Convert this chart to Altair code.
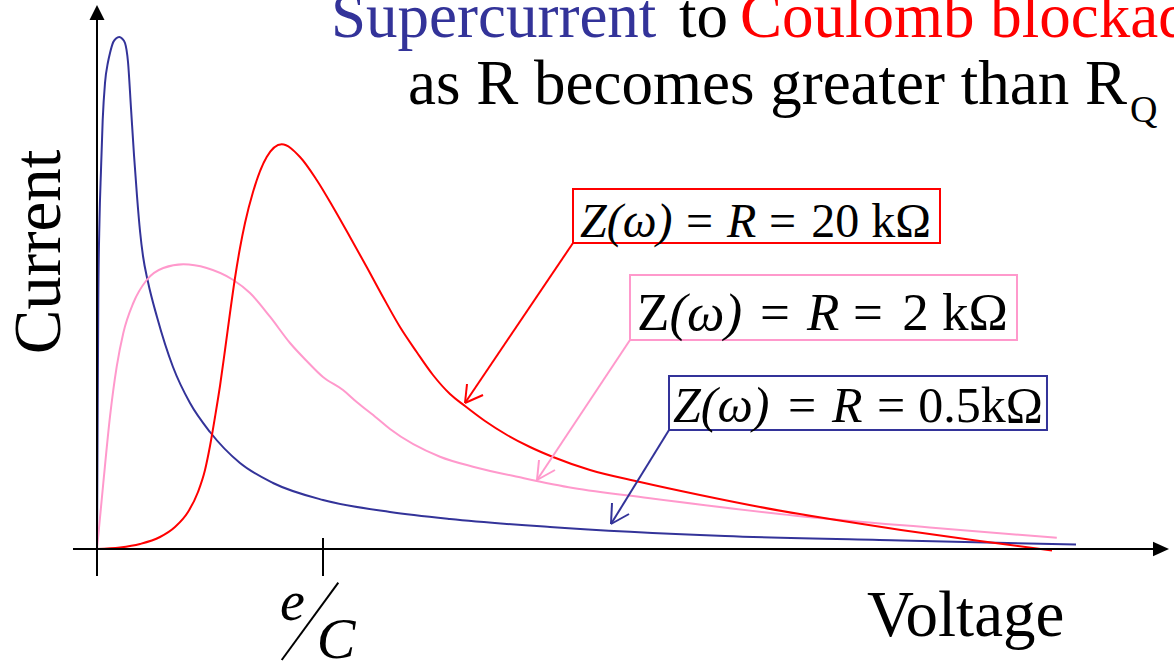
import altair as alt
import pandas as pd

# Voltage is in units of e/C, current in arbitrary units.
# R = 0.5 kOhm: sharp supercurrent peak near zero voltage
v_05k = [0, 0.0022, 0.0058, 0.0111, 0.0177, 0.0252, 0.0354, 0.0487, 0.0575, 0.0721,
         0.0841, 0.0987, 0.1106, 0.1239, 0.1372, 0.1504, 0.1637, 0.1770, 0.1903, 0.2035,
         0.2257, 0.2655, 0.3363, 0.4115, 0.5, 0.6327, 0.7788, 1.0, 1.2965, 1.5619,
         2.0044, 2.7788, 3.5575, 4.3319]
i_05k = [0, 19.8, 49.8, 65.8, 75.8, 85.8, 93.2, 97.4, 99.2, 101.4,
         102.1, 102.4, 102.1, 101.2, 97.4, 88.2, 78.8, 70.6, 63.6, 58.6,
         53.4, 46.4, 36.4, 29.2, 23.4, 17.2, 13.2, 9.8, 7.4, 6.0,
         4.4, 2.6, 1.7, 0.9]

# R = 2 kOhm: intermediate case
v_2k = [0, 0.0279, 0.0575, 0.0872, 0.1164, 0.1606, 0.2199, 0.2934, 0.3819, 0.4854,
        0.6031, 0.6770, 0.7655, 0.8540, 0.9279, 1.0, 1.0885, 1.1491, 1.2376, 1.2965,
        1.5177, 1.6637, 1.8850, 2.1062, 2.4381, 3.0907, 3.7115, 4.2469]
i_2k = [0, 13.2, 26.46, 36.46, 43.2, 49.2, 53.8, 56.2, 56.94, 56.2,
        53.8, 51.2, 46.46, 41.2, 37.6, 34.4, 31.8, 29.4, 26.2, 24.0,
        18.46, 16.46, 14.2, 12.2, 10.2, 6.66, 4.2, 2.24]

# R = 20 kOhm: Coulomb blockade, peak pushed out near e/C
v_20k = [0, 0.1018, 0.1903, 0.2788, 0.3451, 0.4027, 0.4469, 0.4779, 0.5, 0.5221,
         0.5442, 0.5664, 0.5885, 0.6106, 0.6327, 0.6549, 0.6903, 0.7509, 0.8173, 0.8982,
         0.9721, 1.0442, 1.1195, 1.1934, 1.2655, 1.3407, 1.4146, 1.4867, 1.5619, 1.6283,
         1.7168, 1.8142, 1.9159, 2.0177, 2.1814, 2.4027, 2.6681, 2.9336, 3.2434, 3.5575,
         3.8894, 4.2257]
i_20k = [0, 0.3, 1.0, 2.4, 4.4, 7.4, 11.4, 15.8, 20.6, 26.4,
         32.6, 39.8, 47.2, 54.2, 60.2, 65.2, 71.4, 78.4, 80.94, 78.4,
         73.8, 68.4, 62.4, 56.4, 50.4, 44.4, 39.4, 34.8, 31.0, 28.6,
         25.6, 22.8, 20.4, 18.4, 15.8, 13.4, 10.8, 8.4, 6.0, 3.8,
         1.7, -0.3]

series_names = ["0.5k", "2k", "20k"]
series_colors = ["#333399", "#ff99cc", "#ff0000"]

# Label boxes: [v_left, v_right, i_top, i_bottom]
box_05k = [2.5310, 4.2035, 34.6, 23.8]
box_2k = [2.3584, 4.0708, 54.8, 41.8]
box_20k = [2.1062, 3.7301, 72.0, 61.2]

# Label pieces: (text, italic, v, i, align, font size)
label_05k = [("Z(ω)", True, 2.5487, 25.4, "left", 50), ("=", False, 3.0575, 25.4, "left", 50),
             ("R", True, 3.2522, 25.4, "left", 50), ("=", False, 3.4513, 25.4, "left", 50),
             ("0.5kΩ", False, 4.1858, 25.4, "right", 50)]
label_2k = [("Z", False, 2.3894, 43.8, "left", 53), ("(ω)", True, 2.5327, 43.8, "left", 53),
            ("=", False, 2.9336, 43.8, "left", 53), ("R", True, 3.1416, 43.8, "left", 53),
            ("=", False, 3.3451, 43.8, "left", 53), ("2 kΩ", False, 4.0310, 43.8, "right", 53)]
label_20k = [("Z(ω)", True, 2.1372, 62.4, "left", 48), ("=", False, 2.6062, 62.4, "left", 48),
             ("R", True, 2.7876, 62.4, "left", 48), ("=", False, 2.9735, 62.4, "left", 48),
             ("20 kΩ", False, 3.6903, 62.4, "right", 48)]

# Pointer arrows: start, tip, and the two barbs of each head
arrow_start = [(2.5310, 23.8), (2.3584, 41.8), (2.1062, 61.2)]
arrow_tip = [(2.2743, 5.0), (1.9469, 13.8), (1.6283, 29.2)]
arrow_barb_a = [(2.2788, 9.2), (1.9558, 17.8), (1.6372, 33.0)]
arrow_barb_b = [(2.3540, 7.0), (2.0265, 15.8), (1.7080, 30.8)]

W, H = 1174, 663
x_dom = [-0.42920, 4.76549]
y_dom = [-22.8, 109.8]
xs = alt.Scale(domain=x_dom, nice=False, zero=False)
ys = alt.Scale(domain=y_dom, nice=False, zero=False)
FONT = "Liberation Serif"

rows = []
for name, vv, ii in [("0.5k", v_05k, i_05k), ("2k", v_2k, i_2k), ("20k", v_20k, i_20k)]:
    for k, (a, b) in enumerate(zip(vv, ii)):
        rows.append({"v": a, "i": b, "series": name, "k": k})
curves_df = pd.DataFrame(rows)

color = alt.Color("series:N", scale=alt.Scale(domain=series_names, range=series_colors), legend=None)

curves = alt.Chart(curves_df).mark_line(strokeWidth=2, interpolate="monotone").encode(
    x=alt.X("v:Q", scale=xs, axis=None),
    y=alt.Y("i:Q", scale=ys, axis=None),
    color=color,
    order="k:Q",
)

# Axes with arrowheads, the e/C tick and the slash of its label
axes_df = pd.DataFrame([
    {"x": -0.1062, "x2": 4.6726, "y": 0.0, "y2": 0.0},
    {"x": 0.0, "x2": 0.0, "y": -5.4, "y2": 105.8},
    {"x": 1.0, "x2": 1.0, "y": 2.2, "y2": -5.4},
    {"x": 1.0677, "x2": 0.8173, "y": -6.74, "y2": -22.2},
])
axes = alt.Chart(axes_df).mark_rule(color="black", strokeWidth=2).encode(
    x=alt.X("x:Q", scale=xs), x2="x2:Q",
    y=alt.Y("y:Q", scale=ys), y2="y2:Q",
)
head_x = alt.Chart(pd.DataFrame([{"x": 4.7080, "y": 0.0}])).mark_point(
    shape="M1,0L-1,-0.9L-1,0.9Z", size=256, filled=True, opacity=1, color="black", strokeWidth=0
).encode(x=alt.X("x:Q", scale=xs), y=alt.Y("y:Q", scale=ys))
head_y = alt.Chart(pd.DataFrame([{"x": 0.0, "y": 107.3}])).mark_point(
    shape="M0,-1L1,1L-1,1Z", size=225, filled=True, opacity=1, color="black", strokeWidth=0
).encode(x=alt.X("x:Q", scale=xs), y=alt.Y("y:Q", scale=ys))

# Boxes around the curve labels
boxes_df = pd.DataFrame([
    {"series": s, "x": b[0], "x2": b[1], "y": b[2], "y2": b[3]}
    for s, b in zip(series_names, [box_05k, box_2k, box_20k])
])
boxes = alt.Chart(boxes_df).mark_rect(fill="white", strokeWidth=2).encode(
    x=alt.X("x:Q", scale=xs), x2="x2:Q",
    y=alt.Y("y:Q", scale=ys), y2="y2:Q",
    stroke=alt.Stroke("series:N", scale=alt.Scale(domain=series_names, range=series_colors), legend=None),
)

# Pointer arrows
seg_rows = []
for s, st, tp, ba, bb in zip(series_names, arrow_start, arrow_tip, arrow_barb_a, arrow_barb_b):
    seg_rows.append({"series": s, "x": st[0], "y": st[1], "x2": tp[0], "y2": tp[1]})
    seg_rows.append({"series": s, "x": ba[0], "y": ba[1], "x2": tp[0], "y2": tp[1]})
    seg_rows.append({"series": s, "x": bb[0], "y": bb[1], "x2": tp[0], "y2": tp[1]})
arrows = alt.Chart(pd.DataFrame(seg_rows)).mark_rule(strokeWidth=2).encode(
    x=alt.X("x:Q", scale=xs), x2="x2:Q",
    y=alt.Y("y:Q", scale=ys), y2="y2:Q",
    color=color,
)


def piece(text, italic, v, i, align, size):
    kw = dict(font=FONT, fontSize=size, align=align, baseline="alphabetic", color="black", text=text)
    if italic:
        kw["fontStyle"] = "italic"
    return alt.Chart(pd.DataFrame([{"v": v, "i": i}])).mark_text(**kw).encode(
        x=alt.X("v:Q", scale=xs), y=alt.Y("i:Q", scale=ys))


box_texts = [piece(*p) for p in label_05k + label_2k + label_20k]

# e/C tick label
ec_e = piece("e", True, 0.865, -14.2, "center", 56)
ec_c = piece("C", True, 1.0575, -21.8, "center", 58)


def label(text, x, y, size, color="black", angle=None, align="left"):
    kw = dict(font=FONT, fontSize=size, color=color, align=align, baseline="alphabetic", text=text)
    if angle is not None:
        kw["angle"] = angle
    return alt.Chart(pd.DataFrame([{"a": 0}])).mark_text(**kw).encode(
        x=alt.value(x), y=alt.value(y))


title_parts = [
    label("Supercurrent", 331, 37, 63, "#333399"),
    label("to", 679, 37, 63),
    label("Coulomb blockade", 740, 37, 63, "#ff0000"),
    label("as R becomes greater than R", 408, 104, 63),
    label("Q", 1130, 122, 38),
]
voltage = label("Voltage", 867, 636, 65)
current = label("Current", 60, 252, 67, angle=270, align="center")

chart = alt.layer(
    curves, axes, head_x, head_y, arrows, boxes, *box_texts, ec_e, ec_c,
    *title_parts, voltage, current,
).properties(
    width=W, height=H, padding=0, autosize=alt.AutoSizeParams(type="none"),
    background="white",
).configure_view(stroke=None)

chart.save("out.html", embed_options={"renderer": "svg", "actions": False})
